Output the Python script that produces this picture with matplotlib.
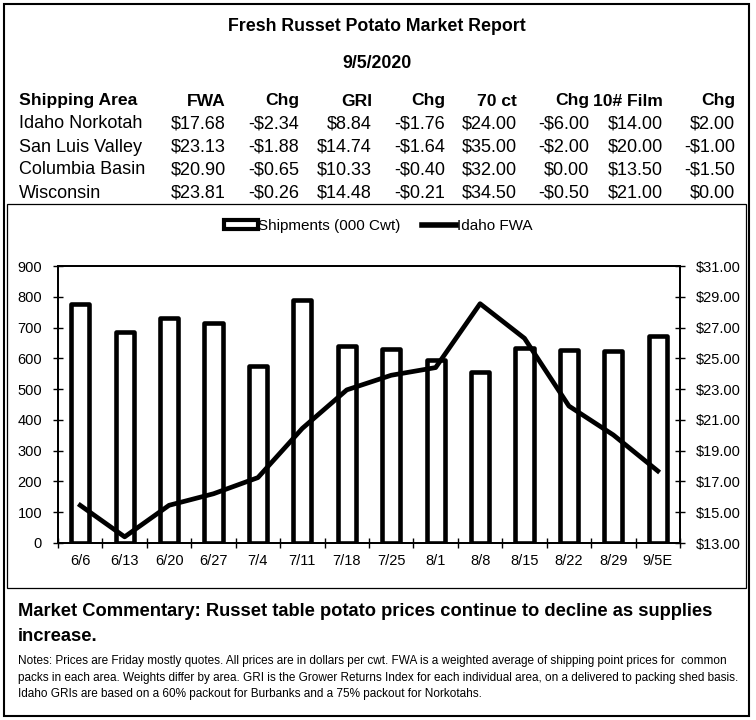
import matplotlib
matplotlib.use("Agg")
import matplotlib.pyplot as plt
from matplotlib.patches import Rectangle, Patch
from matplotlib.lines import Line2D
from matplotlib.ticker import FuncFormatter, MultipleLocator

plt.rcParams['font.family'] = ['Liberation Sans', 'DejaVu Sans']

# ---------------- data ----------------
title = "Fresh Russet Potato Market Report"
report_date = "9/5/2020"

table_header = ["Shipping Area", "FWA", "Chg", "GRI", "Chg", "70 ct", "Chg", "10# Film", "Chg"]
areas = ["Idaho Norkotah", "San Luis Valley", "Columbia Basin", "Wisconsin"]
fwa = ["$17.68", "$23.13", "$20.90", "$23.81"]
fwa_chg = ["-$2.34", "-$1.88", "-$0.65", "-$0.26"]
gri = ["$8.84", "$14.74", "$10.33", "$14.48"]
gri_chg = ["-$1.76", "-$1.64", "-$0.40", "-$0.21"]
ct70 = ["$24.00", "$35.00", "$32.00", "$34.50"]
ct70_chg = ["-$6.00", "-$2.00", "$0.00", "-$0.50"]
film10 = ["$14.00", "$20.00", "$13.50", "$21.00"]
film10_chg = ["$2.00", "-$1.00", "-$1.50", "$0.00"]

weeks = ['6/6', '6/13', '6/20', '6/27', '7/4', '7/11', '7/18', '7/25',
         '8/1', '8/8', '8/15', '8/22', '8/29', '9/5E']
shipments = [775, 687, 731, 716, 574, 788, 641, 629, 593, 556, 633, 626, 624, 671]
idaho_fwa = [15.45, 13.40, 15.45, 16.20, 17.25, 20.45, 22.95, 23.90,
             24.40, 28.55, 26.30, 21.90, 20.02, 17.68]
price_ticks = [13, 15, 17, 19, 21, 23, 25, 27, 29, 31]

commentary = ("Market Commentary: Russet table potato prices continue to decline as supplies\n"
              "increase.")
notes = ["Notes: Prices are Friday mostly quotes. All prices are in dollars per cwt. FWA is a weighted average of shipping point prices for  common",
         "packs in each area. Weights differ by area. GRI is the Grower Returns Index for each individual area, on a delivered to packing shed basis.",
         "Idaho GRIs are based on a 60% packout for Burbanks and a 75% packout for Norkotahs."]

# ---------------- figure ----------------
W, H = 756, 720
fig = plt.figure(figsize=(W / 100, H / 100), dpi=100)
fig.patch.set_facecolor('white')

def fx(x):
    return x / W

def fy(y):
    return 1 - y / H

# borders
fig.add_artist(Rectangle((fx(4), fy(716)), fx(745), 712 / H, transform=fig.transFigure,
                         fill=False, edgecolor='black', linewidth=1.5))
fig.add_artist(Rectangle((fx(7), fy(588)), fx(739), 384 / H, transform=fig.transFigure,
                         fill=False, edgecolor='black', linewidth=0.9))

# title
fig.text(fx(377), fy(31), title, ha='center', va='baseline', fontsize=12.8, fontweight='bold')
fig.text(fx(377), fy(68), report_date, ha='center', va='baseline', fontsize=12.8, fontweight='bold')

# table
col_right = [226, 299, 372, 445, 517, 589, 663, 735]
header_base = 105.5
row_base = [128.5, 151.5, 174.5, 197.5]
fig.text(fx(19), fy(header_base), table_header[0], ha='left', va='baseline',
         fontsize=12.6, fontweight='bold')
for xr, h in zip(col_right, table_header[1:]):
    fig.text(fx(xr), fy(header_base), h, ha='right', va='baseline', fontsize=12.6,
             fontweight='bold')
cols = [fwa, fwa_chg, gri, gri_chg, ct70, ct70_chg, film10, film10_chg]
for i, area in enumerate(areas):
    fig.text(fx(19), fy(row_base[i]), area, ha='left', va='baseline', fontsize=13)
    for xr, col in zip(col_right, cols):
        fig.text(fx(xr), fy(row_base[i]), col[i], ha='right', va='baseline', fontsize=13)

# chart
ax = fig.add_axes([fx(58), fy(543), (680 - 58) / W, (543 - 266) / H])
x = list(range(len(weeks)))
ax.bar(x, shipments, width=0.41, color='white', edgecolor='black', linewidth=3.3,
       joinstyle='round', zorder=2)
ax.set_xlim(-0.5, len(weeks) - 0.5)
ax.set_ylim(0, 900)
ax.yaxis.set_major_locator(MultipleLocator(100))
ax.set_xticks(x)
ax.set_xticklabels(weeks)
ax.set_xticks([i - 0.5 for i in range(len(weeks) + 1)], minor=True)
ax.tick_params(axis='x', which='major', length=0, pad=8, labelsize=10.5)
ax.tick_params(axis='x', which='minor', direction='inout', length=7, width=1)
ax.tick_params(axis='y', direction='inout', length=7, width=1, pad=8, labelsize=10.5)
for s in ax.spines.values():
    s.set_linewidth(1.3)

ax2 = ax.twinx()
ax2.plot(x, idaho_fwa, color='black', linewidth=3.4, solid_joinstyle='round', zorder=3)
ax2.set_ylim(price_ticks[0], price_ticks[-1])
ax2.set_yticks(price_ticks)
ax2.yaxis.set_major_formatter(FuncFormatter(lambda v, p: f"${v:.2f}"))
ax2.tick_params(axis='y', direction='inout', length=7, width=1, pad=8, labelsize=10.5)
for s in ax2.spines.values():
    s.set_linewidth(1.3)

handles = [Patch(facecolor='white', edgecolor='black', linewidth=3),
           Line2D([0], [0], color='black', linewidth=4)]
fig.legend(handles, ["Shipments (000 Cwt)", "Idaho FWA"], loc='center',
           bbox_to_anchor=(fx(378), fy(226)), ncol=2, frameon=False, fontsize=11,
           handlelength=2.2, handleheight=0.6, handletextpad=0.05, columnspacing=1.4)

# commentary and notes
fig.text(fx(18), fy(624), commentary, ha='left', va='center', fontsize=13.2,
         fontweight='bold', linespacing=1.6)
for yy, line in zip([661, 678, 694], notes):
    fig.text(fx(18), fy(yy), line, ha='left', va='center', fontsize=8.5)

fig.savefig("out.png", dpi=100)
